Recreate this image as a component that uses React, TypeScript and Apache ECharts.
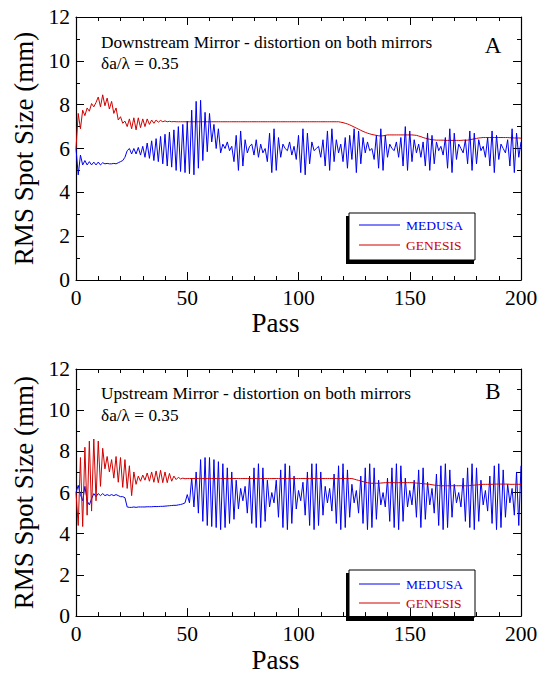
import React, { useEffect, useRef } from "react";
import * as echarts from "echarts";

// Pass number = index (0..200)
const medusaA = [
  6.0, 4.8, 5.7, 5.25, 5.45, 5.25, 5.4, 5.25, 5.38, 5.25,
  5.38, 5.25, 5.35, 5.3, 5.32, 5.3, 5.3, 5.32, 5.3, 5.35,
  5.4, 5.45, 5.6, 5.9, 6.0, 5.75, 6.0, 5.75, 6.05, 5.7,
  6.1, 5.6, 6.25, 5.55, 6.35, 5.45, 6.45, 5.4, 6.55, 5.3,
  6.65, 5.2, 6.75, 5.15, 6.85, 5.0, 7.0, 4.95, 7.1, 4.9,
  7.25, 4.85, 7.75, 4.8, 8.15, 5.1, 8.2, 5.45, 7.65, 5.85,
  7.6, 6.3, 7.1, 6.0, 6.9, 5.8, 6.2, 6.0, 6.3, 5.9,
  6.1, 5.4, 6.6, 5.0, 6.8, 5.2, 6.4, 5.8, 6.1, 6.2,
  5.7, 6.4, 5.6, 6.2, 5.8, 6.0, 5.4, 6.7, 4.9, 6.9,
  5.0, 6.5, 5.6, 6.2, 6.0, 5.9, 6.3, 5.7, 6.1, 5.5,
  6.6, 4.9, 6.9, 4.8, 6.7, 5.3, 6.3, 5.9, 6.0, 6.1,
  5.6, 6.4, 5.2, 6.8, 5.0, 6.9, 5.4, 6.4, 5.8, 6.2,
  5.4, 6.5, 5.1, 6.6, 5.5, 6.9, 4.9, 6.8, 5.3, 6.5,
  5.8, 6.3, 5.9, 6.0, 5.5, 6.6, 5.1, 6.9, 5.0, 6.6,
  5.6, 6.2, 6.0, 5.9, 6.3, 5.6, 6.5, 5.2, 7.0, 5.0,
  6.8, 5.4, 6.4, 5.8, 6.2, 5.6, 6.3, 5.2, 6.7, 5.0,
  6.6, 5.3, 6.3, 5.9, 6.1, 5.7, 6.5, 5.1, 6.9, 4.9,
  6.7, 5.5, 6.2, 6.0, 5.8, 6.4, 5.3, 6.8, 5.0, 6.7,
  5.3, 6.4, 5.9, 6.1, 5.6, 6.5, 5.2, 6.8, 4.9, 6.6,
  5.5, 6.2, 6.0, 5.8, 6.4, 5.2, 6.9, 4.9, 6.7, 5.6,
  6.3,
];

const genesisA = [
  6.0, 7.6, 6.9, 7.75, 7.5, 7.85, 7.7, 8.05, 7.9, 8.1,
  8.35, 7.9, 8.45, 7.95, 8.3, 7.8, 8.15, 7.6, 7.85, 7.3,
  7.45, 7.15, 7.25, 7.0, 7.35, 6.9, 7.4, 6.85, 7.4, 6.95,
  7.35, 7.0, 7.35, 7.1, 7.3, 7.15, 7.3, 7.2, 7.28, 7.22,
  7.26, 7.22, 7.24, 7.22, 7.23, 7.22, 7.22, 7.22, 7.22, 7.22,
  7.22, 7.22, 7.22, 7.22, 7.22, 7.22, 7.22, 7.22, 7.22, 7.22,
  7.22, 7.22, 7.22, 7.22, 7.22, 7.22, 7.22, 7.22, 7.22, 7.22,
  7.22, 7.22, 7.22, 7.22, 7.22, 7.22, 7.22, 7.22, 7.22, 7.22,
  7.22, 7.22, 7.22, 7.22, 7.22, 7.22, 7.22, 7.22, 7.22, 7.22,
  7.22, 7.22, 7.22, 7.22, 7.22, 7.22, 7.22, 7.22, 7.22, 7.22,
  7.22, 7.22, 7.22, 7.22, 7.22, 7.22, 7.22, 7.22, 7.22, 7.22,
  7.22, 7.22, 7.22, 7.22, 7.22, 7.22, 7.22, 7.22, 7.22, 7.2,
  7.18, 7.15, 7.12, 7.08, 7.03, 6.98, 6.93, 6.88, 6.83, 6.78,
  6.74, 6.7, 6.67, 6.64, 6.62, 6.6, 6.58, 6.57, 6.58, 6.6,
  6.62, 6.62, 6.62, 6.62, 6.62, 6.62, 6.62, 6.62, 6.62, 6.62,
  6.62, 6.62, 6.61, 6.6, 6.57, 6.54, 6.5, 6.47, 6.44, 6.42,
  6.4, 6.39, 6.38, 6.38, 6.38, 6.38, 6.37, 6.37, 6.37, 6.37,
  6.37, 6.37, 6.37, 6.37, 6.38, 6.38, 6.38, 6.4, 6.42, 6.44,
  6.46, 6.48, 6.49, 6.5, 6.5, 6.5, 6.5, 6.5, 6.5, 6.5,
  6.5, 6.5, 6.5, 6.5, 6.5, 6.49, 6.49, 6.48, 6.48, 6.48,
  6.47,
];

const medusaB = [
  6.0, 6.35, 5.9, 5.6, 6.3, 5.6, 5.4, 5.7, 5.95, 5.8,
  5.95, 5.85, 5.95, 5.85, 5.9, 5.85, 5.9, 5.85, 5.9, 5.85,
  5.8, 5.8, 5.75, 5.3, 5.28, 5.28, 5.3, 5.28, 5.3, 5.3,
  5.3, 5.3, 5.31, 5.31, 5.31, 5.32, 5.32, 5.32, 5.33, 5.33,
  5.34, 5.35, 5.36, 5.37, 5.38, 5.38, 5.4, 5.42, 5.45, 5.5,
  5.9, 5.5, 6.7, 5.3, 7.0, 5.0, 7.6, 4.6, 7.7, 4.4,
  7.7, 4.35, 7.6, 4.3, 7.5, 4.2, 7.4, 4.3, 7.2, 4.5,
  7.0, 4.7, 6.6, 5.2, 6.2, 5.6, 6.3, 5.0, 6.8, 4.5,
  7.2, 4.3, 7.4, 4.3, 7.2, 4.6, 6.6, 5.3, 6.0, 5.5,
  6.6, 4.8, 7.1, 4.3, 7.4, 4.2, 7.3, 4.5, 6.8, 5.2,
  6.1, 5.6, 6.5, 4.9, 7.0, 4.4, 7.4, 4.2, 7.4, 4.4,
  7.0, 4.9, 6.3, 5.5, 6.2, 5.1, 6.9, 4.5, 7.3, 4.2,
  7.4, 4.3, 7.1, 4.8, 6.4, 5.5, 6.1, 5.0, 6.8, 4.5,
  7.2, 4.2, 7.4, 4.3, 7.2, 4.7, 6.6, 5.4, 6.0, 5.3,
  6.7, 4.6, 7.2, 4.3, 7.4, 4.2, 7.3, 4.6, 6.7, 5.3,
  6.1, 5.4, 6.6, 4.8, 7.1, 4.3, 7.2, 4.7, 6.5, 5.4,
  6.2, 5.0, 6.9, 4.4, 7.3, 4.2, 7.4, 4.3, 7.1, 4.8,
  6.4, 5.5, 6.0, 5.3, 6.7, 4.6, 7.2, 4.3, 7.4, 4.2,
  7.2, 4.6, 6.6, 5.4, 6.1, 5.1, 6.8, 4.5, 7.3, 4.2,
  7.4, 4.3, 7.1, 4.8, 6.4, 5.5, 6.2, 4.9, 7.0, 4.4,
  7.3,
];

const genesisB = [
  6.0, 4.4, 7.7, 4.35, 8.2, 4.9, 8.5, 5.1, 8.6, 5.6,
  8.5, 6.3, 8.15, 7.15, 7.75, 7.0, 7.6, 6.7, 7.75, 6.5,
  7.7, 6.25, 7.6, 6.2, 7.3, 5.85, 7.0, 6.4, 6.8, 6.55,
  6.85, 6.6, 6.95, 6.55, 7.0, 6.5, 7.05, 6.48, 7.08, 6.48,
  7.0, 6.48, 6.93, 6.55, 6.8, 6.63, 6.74, 6.66, 6.7, 6.67,
  6.68, 6.68, 6.68, 6.68, 6.68, 6.68, 6.68, 6.68, 6.68, 6.68,
  6.68, 6.68, 6.68, 6.68, 6.68, 6.68, 6.68, 6.68, 6.68, 6.68,
  6.68, 6.68, 6.68, 6.68, 6.68, 6.68, 6.68, 6.68, 6.68, 6.68,
  6.68, 6.68, 6.68, 6.68, 6.68, 6.68, 6.68, 6.68, 6.68, 6.68,
  6.68, 6.68, 6.68, 6.68, 6.68, 6.68, 6.68, 6.68, 6.68, 6.68,
  6.68, 6.68, 6.68, 6.68, 6.68, 6.68, 6.68, 6.68, 6.68, 6.68,
  6.68, 6.68, 6.68, 6.68, 6.68, 6.68, 6.68, 6.68, 6.68, 6.68,
  6.68, 6.68, 6.68, 6.68, 6.68, 6.65, 6.62, 6.59, 6.56, 6.53,
  6.5, 6.48, 6.46, 6.45, 6.45, 6.45, 6.45, 6.46, 6.47, 6.48,
  6.48, 6.48, 6.48, 6.48, 6.48, 6.48, 6.48, 6.48, 6.48, 6.48,
  6.48, 6.48, 6.47, 6.46, 6.45, 6.44, 6.43, 6.42, 6.41, 6.4,
  6.38, 6.36, 6.35, 6.34, 6.33, 6.33, 6.33, 6.33, 6.33, 6.33,
  6.33, 6.33, 6.33, 6.33, 6.33, 6.33, 6.33, 6.34, 6.35, 6.36,
  6.37, 6.38, 6.39, 6.4, 6.4, 6.4, 6.4, 6.4, 6.41, 6.41,
  6.41, 6.41, 6.41, 6.41, 6.41, 6.4, 6.4, 6.4, 6.4, 6.4,
  6.4,
];

const panelTitles = [
  "Downstream Mirror - distortion on both mirrors",
  "Upstream Mirror - distortion on both mirrors",
];
const panelLetters = ["A", "B"];
const paramText = "\u03b4a/\u03bb = 0.35";
const seriesNames = ["MEDUSA", "GENESIS"];

const SERIF = "Liberation Serif";
const BLUE = "#0000f0";
const RED = "#d00000";

const toPts = (arr: number[]) => arr.map((v, i) => [i, v]);

export default function App() {
  const ref = useRef<HTMLDivElement>(null);

  useEffect(() => {
    if (!ref.current) return;
    const chart = echarts.init(ref.current, null, { renderer: "svg" });

    const grids = [
      { left: 76, top: 17, width: 445, height: 263 },
      { left: 76, top: 369, width: 445, height: 263 },
    ];

    const tickCommon = {
      axisLine: { show: true, onZero: false, lineStyle: { color: "#000", width: 1.2 } },
      axisTick: { show: true, inside: true, length: 8, lineStyle: { color: "#000", width: 1 } },
      splitLine: { show: false },
      minorSplitLine: { show: false },
    };

    const xAxes: any[] = [];
    const yAxes: any[] = [];
    grids.forEach((_, gi) => {
      xAxes.push({
        type: "value",
        gridIndex: gi,
        position: "bottom",
        min: 0,
        max: 200,
        interval: 50,
        ...tickCommon,
        minorTick: { show: true, splitNumber: 5, length: 4, lineStyle: { color: "#000" } },
        axisLabel: { fontSize: 21.5, fontFamily: SERIF, color: "#000", margin: 7 },
        name: "Pass",
        nameLocation: "middle",
        nameGap: 19,
        nameTextStyle: { fontSize: 27, fontFamily: SERIF, color: "#000", padding: [0, 46, 0, 0] },
      });
      xAxes.push({
        type: "value",
        gridIndex: gi,
        position: "top",
        min: 0,
        max: 200,
        interval: 50,
        ...tickCommon,
        minorTick: { show: true, splitNumber: 5, length: 4, lineStyle: { color: "#000" } },
        axisLabel: { show: false },
      });
      yAxes.push({
        type: "value",
        gridIndex: gi,
        position: "left",
        min: 0,
        max: 12,
        interval: 2,
        ...tickCommon,
        minorTick: { show: true, splitNumber: 2, length: 4, lineStyle: { color: "#000" } },
        axisLabel: { fontSize: 21.5, fontFamily: SERIF, color: "#000", margin: 6 },
        name: "RMS Spot Size (mm)",
        nameLocation: "middle",
        nameGap: 38,
        nameTextStyle: { fontSize: 27, fontFamily: SERIF, color: "#000" },
      });
      yAxes.push({
        type: "value",
        gridIndex: gi,
        position: "right",
        min: 0,
        max: 12,
        interval: 2,
        ...tickCommon,
        minorTick: { show: true, splitNumber: 2, length: 4, lineStyle: { color: "#000" } },
        axisLabel: { show: false },
      });
    });

    const mkSeries = (name: string, data: number[], color: string, gi: number) => ({
      type: "line",
      name,
      xAxisIndex: gi * 2,
      yAxisIndex: gi * 2,
      data: toPts(data),
      symbol: "none",
      showSymbol: false,
      lineStyle: { color, width: 1 },
      itemStyle: { color },
      clip: true,
    });

    const textEl = (x: number, y: number, text: string, size: number, color = "#000", align = "left") => ({
      type: "text",
      x,
      y,
      style: {
        text,
        fontSize: size,
        fontFamily: SERIF,
        fill: color,
        align,
        verticalAlign: "middle",
        textAlign: align,
        textVerticalAlign: "middle",
      },
    });

    const legendEls = (top: number, l1: number, l2: number) => [
      { type: "rect", shape: { x: 346, y: top + 3, width: 128, height: 48 }, style: { fill: "#000" } },
      { type: "rect", shape: { x: 349, y: top, width: 126, height: 47 }, style: { fill: "#fff", stroke: "#000", lineWidth: 1 } },
      { type: "line", shape: { x1: 359, y1: l1, x2: 400, y2: l1 }, style: { stroke: BLUE, lineWidth: 1 } },
      { type: "line", shape: { x1: 359, y1: l2, x2: 400, y2: l2 }, style: { stroke: RED, lineWidth: 1 } },
      textEl(406, l1, seriesNames[0], 13.5, BLUE),
      textEl(406, l2, seriesNames[1], 13.5, RED),
    ];

    const option: any = {
      animation: false,
      backgroundColor: "#fff",
      textStyle: { fontFamily: SERIF },
      grid: grids,
      xAxis: xAxes,
      yAxis: yAxes,
      series: [
        mkSeries(seriesNames[1], genesisA, RED, 0),
        mkSeries(seriesNames[0], medusaA, BLUE, 0),
        mkSeries(seriesNames[0], medusaB, BLUE, 1),
        mkSeries(seriesNames[1], genesisB, RED, 1),
      ],
      graphic: [
        textEl(101, 42, panelTitles[0], 17.3),
        textEl(101, 63, paramText, 17.3),
        textEl(493, 45, panelLetters[0], 23, "#000", "center"),
        textEl(101, 393, panelTitles[1], 17.3),
        textEl(101, 415, paramText, 17.3),
        textEl(493, 391, panelLetters[1], 23, "#000", "center"),
        ...legendEls(213, 225, 245),
        ...legendEls(570, 584, 603),
      ],
    };

    chart.setOption(option);
    return () => chart.dispose();
  }, []);

  return (
    <div
      ref={ref}
      style={{ position: "absolute", left: 0, top: 0, width: 541, height: 674 }}
    />
  );
}
